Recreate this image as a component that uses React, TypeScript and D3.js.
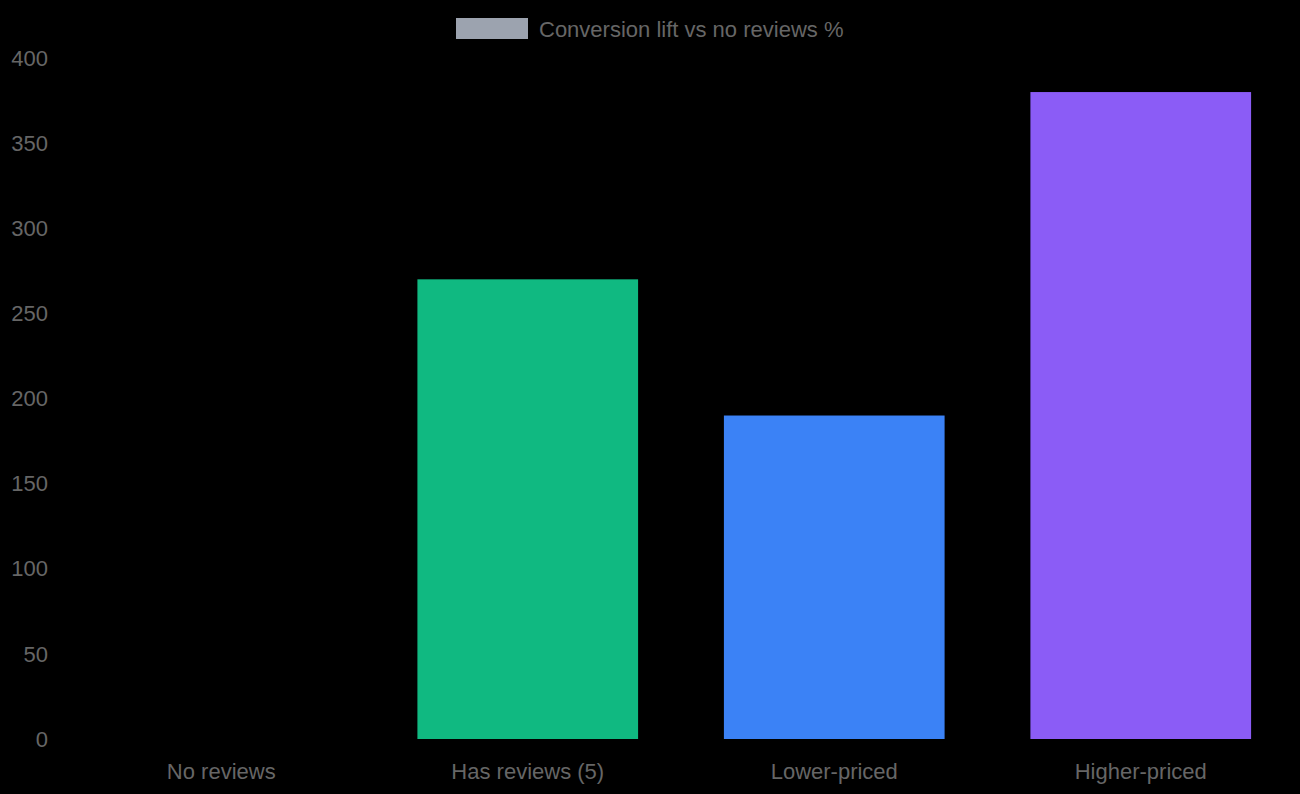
import React, { useRef, useEffect, FC } from "react";
import * as d3 from "d3";

// chart data
const categories = ["No reviews", "Has reviews (5)", "Lower-priced", "Higher-priced"];
const liftValues = [0, 270, 190, 380];
const barColors = ["#9ca3af", "#10b981", "#3b82f6", "#8b5cf6"];
const yTicks = [0, 50, 100, 150, 200, 250, 300, 350, 400];
const seriesLabel = "Conversion lift vs no reviews %";

const App: FC = () => {
  const chartRef = useRef<HTMLDivElement>(null);

  useEffect(() => {
    document.body.style.margin = "0";
    document.body.style.background = "#000";

    const container = d3.select(chartRef.current);
    container.select("svg").remove();

    const width = 1300;
    const height = 794;
    const margin = { top: 58, right: 6, bottom: 55, left: 68 };
    const font = "'Liberation Sans', Arial, Helvetica, sans-serif";
    const fontSize = "22px";
    const textColor = "#666";

    const svg = container
      .append("svg")
      .attr("width", width)
      .attr("height", height)
      .style("display", "block")
      .style("background", "#000");

    const xScale = d3
      .scaleBand()
      .domain(categories)
      .range([margin.left, width - margin.right])
      .paddingInner(0.28)
      .paddingOuter(0.14);

    const yScale = d3
      .scaleLinear()
      .domain([0, 400])
      .range([height - margin.bottom, margin.top]);

    // gridlines (dark, barely visible on black)
    svg
      .append("g")
      .selectAll("line")
      .data(yTicks)
      .enter()
      .append("line")
      .attr("x1", margin.left)
      .attr("x2", width - margin.right)
      .attr("y1", (d) => yScale(d))
      .attr("y2", (d) => yScale(d))
      .attr("stroke", "rgba(0,0,0,0.1)");

    // y tick labels
    svg
      .append("g")
      .selectAll("text")
      .data(yTicks)
      .enter()
      .append("text")
      .attr("x", 48)
      .attr("y", (d) => yScale(d))
      .attr("dy", "0.35em")
      .attr("text-anchor", "end")
      .attr("fill", textColor)
      .style("font-family", font)
      .style("font-size", fontSize)
      .text((d) => String(d));

    // x labels
    svg
      .append("g")
      .selectAll("text")
      .data(categories)
      .enter()
      .append("text")
      .attr("x", (d) => (xScale(d) as number) + xScale.bandwidth() / 2)
      .attr("y", 771)
      .attr("dy", "0.35em")
      .attr("text-anchor", "middle")
      .attr("fill", textColor)
      .style("font-family", font)
      .style("font-size", fontSize)
      .text((d) => d);

    // bars
    svg
      .append("g")
      .selectAll("rect")
      .data(liftValues)
      .enter()
      .append("rect")
      .attr("x", (_d, i) => xScale(categories[i]) as number)
      .attr("y", (d) => yScale(d))
      .attr("width", xScale.bandwidth())
      .attr("height", (d) => yScale(0) - yScale(d))
      .attr("fill", (_d, i) => barColors[i]);

    // legend
    const legend = svg.append("g");
    legend
      .append("rect")
      .attr("x", 456)
      .attr("y", 18)
      .attr("width", 72)
      .attr("height", 21)
      .attr("fill", barColors[0]);
    legend
      .append("text")
      .attr("x", 539)
      .attr("y", 29)
      .attr("dy", "0.35em")
      .attr("fill", textColor)
      .style("font-family", font)
      .style("font-size", fontSize)
      .text(seriesLabel);
  }, []);

  return <div ref={chartRef} />;
};

export default App;
